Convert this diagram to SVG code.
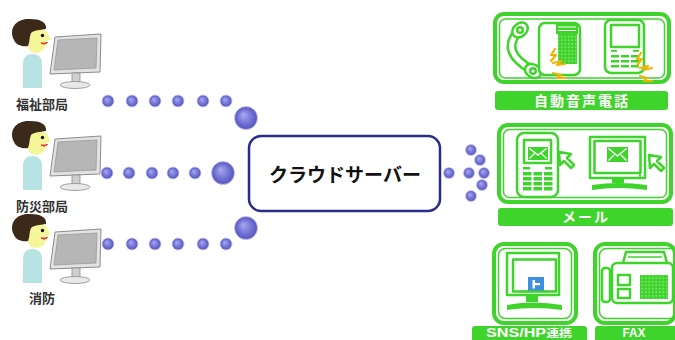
<svg xmlns="http://www.w3.org/2000/svg" xmlns:xlink="http://www.w3.org/1999/xlink" width="675" height="340" viewBox="0 0 675 340">
  <style>
    .lbl { font-family: "Noto Sans CJK JP", "Noto Sans", sans-serif; font-size: 13px; font-weight: bold; fill: #333; text-anchor: middle; }
    .srv { font-family: "Noto Sans CJK JP", "Noto Sans", sans-serif; font-size: 19px; font-weight: bold; fill: #111; text-anchor: middle; }
    .bar { fill: #3fd42b; }
    .bartxt { font-family: "Noto Sans CJK JP", "Liberation Sans", sans-serif; font-size: 14px; font-weight: bold; fill: #fff; text-anchor: middle; letter-spacing: 2px; }
    .foot { font-family: "Liberation Sans", "Noto Sans CJK JP", sans-serif; font-size: 12.5px; font-weight: bold; fill: #fff; text-anchor: middle; }
    .frame { fill: #fff; stroke: #3fd42b; stroke-width: 4; }
    .inner { fill: none; stroke: #3fd42b; stroke-width: 1.5; }
    .g { fill: none; stroke: #3fd42b; stroke-width: 2.5; stroke-linejoin: round; }
    .gw { fill: #fff; stroke: #3fd42b; stroke-width: 2.5; stroke-linejoin: round; }
    .gf { fill: #3fd42b; }
    .bolt { fill: none; stroke: #f5b200; stroke-width: 2.2; stroke-linejoin: round; stroke-linecap: round; }
    .ball { fill: url(#ball); stroke: #c9c9f2; stroke-width: 0.8; }
  </style>
  <defs>
    <radialGradient id="ball" cx="0.5" cy="0.5" r="0.5" fx="0.38" fy="0.35">
      <stop offset="0" stop-color="#a9a9f0"/>
      <stop offset="0.65" stop-color="#7070d4"/>
      <stop offset="1" stop-color="#5656ba"/>
    </radialGradient>
    <pattern id="keys" width="3.5" height="3.5" patternUnits="userSpaceOnUse">
      <rect width="3.5" height="3.5" fill="#3fd42b"/>
      <circle cx="1.75" cy="1.75" r="0.7" fill="#c8f5c0"/>
    </pattern>
    <!-- person at a desk monitor -->
    <g id="person">
      <path d="M23,88 L23,64 C23,57 27,54 32.5,54 C38,54 42,57 42,64 L42,88 Z" fill="#b8e3e3"/>
      <path d="M27,36 C27,28 47,26 48,35 L51,39 L47,41 C47,48 42,53 35,53 C29,53 26,46 27,36 Z" fill="#f5f59a"/>
      <path d="M14,40 C8,28 17,18 30,19 C40,19 47,22 46,29 C40,30 34,30 31,33 C29,37 30,42 28,46 C22,47 16,45 14,40 Z" fill="#3b2a1a"/>
      <circle cx="42.5" cy="35.5" r="1.7" fill="#111"/>
      <path d="M41,43 Q44,45.5 47.5,42.5 Q45,43.5 41,43 Z" fill="#e83030" stroke="#e83030" stroke-width="1"/>
      <polygon points="55,37 101,34 100,72 50,74" fill="#e2e2e2" stroke="#8c8c8c" stroke-width="1"/>
      <polygon points="58,40 97,38 96,68 54,70" fill="#b6b6b6" stroke="#9a9a9a" stroke-width="0.8"/>
      <rect x="72" y="73" width="8" height="9" fill="#cfcfcf" stroke="#8c8c8c" stroke-width="0.8"/>
      <ellipse cx="75" cy="85" rx="15" ry="3.5" fill="#e8e8e8" stroke="#999" stroke-width="0.9"/>
    </g>
    <path id="cursor" d="M0,0 L12,2 L8,6 L15,13 L12,16 L5,9 L1,13 Z"/>
  </defs>

  <!-- departments -->
  <g id="welfare">
    <use xlink:href="#person"/>
    <text class="lbl" x="42" y="109">福祉部局</text>
  </g>
  <g id="disaster">
    <use xlink:href="#person" transform="translate(0,102)"/>
    <text class="lbl" x="42" y="211">防災部局</text>
  </g>
  <g id="fire">
    <use xlink:href="#person" transform="translate(0,195)"/>
    <text class="lbl" x="42" y="303">消防</text>
  </g>

  <!-- dotted links -->
  <g id="connectors">
    <circle class="ball" cx="108" cy="101" r="6"/>
    <circle class="ball" cx="132" cy="101" r="6"/>
    <circle class="ball" cx="155" cy="101" r="6"/>
    <circle class="ball" cx="178" cy="101" r="6"/>
    <circle class="ball" cx="203" cy="101" r="6"/>
    <circle class="ball" cx="226" cy="101" r="6"/>
    <circle class="ball" cx="246" cy="118" r="11.5"/>

    <circle class="ball" cx="107" cy="173" r="6"/>
    <circle class="ball" cx="129" cy="173" r="6"/>
    <circle class="ball" cx="152" cy="173" r="6"/>
    <circle class="ball" cx="173" cy="173" r="6"/>
    <circle class="ball" cx="195" cy="173" r="6"/>
    <circle class="ball" cx="223" cy="173" r="11.5"/>

    <circle class="ball" cx="108" cy="244" r="6"/>
    <circle class="ball" cx="132" cy="244" r="6"/>
    <circle class="ball" cx="155" cy="244" r="6"/>
    <circle class="ball" cx="178" cy="244" r="6"/>
    <circle class="ball" cx="203" cy="244" r="6"/>
    <circle class="ball" cx="226" cy="244" r="6"/>
    <circle class="ball" cx="246" cy="228" r="11.5"/>

    <circle class="ball" cx="449" cy="173" r="5.5"/>
    <circle class="ball" cx="471" cy="150" r="5.5"/>
    <circle class="ball" cx="480" cy="160" r="5.5"/>
    <circle class="ball" cx="469" cy="173" r="5.5"/>
    <circle class="ball" cx="484" cy="173" r="5.5"/>
    <circle class="ball" cx="482" cy="185" r="5.5"/>
    <circle class="ball" cx="471" cy="196" r="5.5"/>
  </g>

  <!-- cloud server -->
  <g id="server">
    <rect x="249" y="136" width="191" height="75" rx="12" fill="#fff" stroke="#2b2b88" stroke-width="2.5"/>
    <text class="srv" x="345" y="182">クラウドサーバー</text>
  </g>

  <!-- automated voice call -->
  <g id="voice">
    <rect class="frame" x="495" y="14" width="174" height="68" rx="9"/>
    <rect class="inner" x="499.5" y="19" width="165" height="59" rx="6"/>
    <!-- handset -->
    <path d="M518,32 Q500,52 532,70" fill="none" stroke="#3fd42b" stroke-width="10" stroke-linecap="round"/>
    <path d="M518,32 Q500,52 532,70" fill="none" stroke="#fff" stroke-width="5" stroke-linecap="round"/>
    <ellipse cx="520" cy="30" rx="8.5" ry="6.5" transform="rotate(-40 520 30)" class="gw" stroke-width="2"/>
    <circle cx="520" cy="30" r="2.8" class="g" stroke-width="1.5"/>
    <ellipse cx="533" cy="71" rx="8.5" ry="6.5" transform="rotate(30 533 71)" class="gw" stroke-width="2"/>
    <circle cx="533" cy="71" r="2.8" class="g" stroke-width="1.5"/>
    <!-- desk phone -->
    <rect class="gw" x="539" y="23" width="41" height="52" rx="6"/>
    <rect class="gf" x="556" y="24" width="22" height="10"/>
    <line x1="558" y1="27" x2="576" y2="27" stroke="#fff" stroke-width="1"/>
    <line x1="558" y1="30.5" x2="576" y2="30.5" stroke="#fff" stroke-width="1"/>
    <rect x="558" y="34" width="19" height="30" fill="url(#keys)"/>
    <polyline class="bolt" points="555,49 551,55 556,55 551,61"/>
    <polyline class="bolt" points="553,63 561,61 557,65 565,64"/>
    <polyline class="bolt" points="553,73 561,75 557,78 566,78"/>
    <!-- mobile -->
    <rect class="gw" x="605" y="20" width="39" height="53" rx="6" stroke-width="3"/>
    <rect class="g" x="611" y="25" width="28" height="22" stroke-width="2"/>
    <rect class="gf" x="611" y="50" width="6" height="1.8"/>
    <rect class="gf" x="633" y="50" width="6" height="1.8"/>
    <rect class="gf" x="611" y="55" width="8" height="2.5"/>
    <rect class="gf" x="621" y="55" width="8" height="2.5"/>
    <rect class="gf" x="631" y="55" width="8" height="2.5"/>
    <rect class="gf" x="611" y="60" width="8" height="2.5"/>
    <rect class="gf" x="621" y="60" width="8" height="2.5"/>
    <rect class="gf" x="631" y="60" width="8" height="2.5"/>
    <rect class="gf" x="611" y="65" width="8" height="2.5"/>
    <rect class="gf" x="621" y="65" width="8" height="2.5"/>
    <rect class="gf" x="631" y="65" width="8" height="2.5"/>
    <polyline class="bolt" points="641,53 637,59 642,59 637,65"/>
    <polyline class="bolt" points="640,68 648,66 644,70 652,68"/>
    <polyline class="bolt" points="640,76 647,78 644,81 652,81"/>
    <rect class="bar" x="495" y="91" width="173" height="19" rx="3"/>
    <text class="bartxt" x="582" y="105.5">自動音声電話</text>
  </g>

  <!-- mail -->
  <g id="mail">
    <rect class="frame" x="499" y="125" width="172" height="77" rx="9"/>
    <rect class="inner" x="503.5" y="129.5" width="163" height="68" rx="6"/>
    <!-- phone with envelope -->
    <rect class="gw" x="517" y="133" width="41" height="64" rx="7" stroke-width="3"/>
    <rect class="g" x="524" y="140" width="27" height="23" stroke-width="1.5"/>
    <rect class="gf" x="528" y="147" width="20" height="13"/>
    <polyline points="529.5,148.5 538,155 546.5,148.5" fill="none" stroke="#fff" stroke-width="1.5"/>
    <line x1="529.5" y1="158.5" x2="535" y2="153" stroke="#fff" stroke-width="1.2"/>
    <line x1="546.5" y1="158.5" x2="541" y2="153" stroke="#fff" stroke-width="1.2"/>
    <rect class="gf" x="523" y="167" width="7" height="2.5"/>
    <rect class="gf" x="545" y="167" width="7" height="2.5"/>
    <rect class="gf" x="523" y="172" width="8.5" height="3.5"/>
    <rect class="gf" x="533.5" y="172" width="8.5" height="3.5"/>
    <rect class="gf" x="544" y="172" width="8.5" height="3.5"/>
    <rect class="gf" x="523" y="177" width="8.5" height="3.5"/>
    <rect class="gf" x="533.5" y="177" width="8.5" height="3.5"/>
    <rect class="gf" x="544" y="177" width="8.5" height="3.5"/>
    <rect class="gf" x="523" y="182" width="8.5" height="3.5"/>
    <rect class="gf" x="533.5" y="182" width="8.5" height="3.5"/>
    <rect class="gf" x="544" y="182" width="8.5" height="3.5"/>
    <rect class="gf" x="523" y="187" width="8.5" height="3.5"/>
    <rect class="gf" x="533.5" y="187" width="8.5" height="3.5"/>
    <rect class="gf" x="544" y="187" width="8.5" height="3.5"/>
    <use xlink:href="#cursor" x="559" y="152" class="gw" stroke-width="2"/>
    <!-- monitor with envelope -->
    <rect class="gw" x="590" y="137" width="55" height="41"/>
    <rect class="g" x="594.5" y="141" width="46" height="32" stroke-width="1.5"/>
    <circle class="gf" cx="640" cy="175.5" r="1.2"/>
    <rect class="gf" x="607" y="147" width="21" height="15"/>
    <polyline points="608.5,148.5 617.5,156 626.5,148.5" fill="none" stroke="#fff" stroke-width="1.5"/>
    <line x1="608.5" y1="160.5" x2="614" y2="155" stroke="#fff" stroke-width="1.2"/>
    <line x1="626.5" y1="160.5" x2="621" y2="155" stroke="#fff" stroke-width="1.2"/>
    <rect class="gf" x="612" y="178" width="12" height="5"/>
    <path class="gf" d="M592,185 Q618,181 647,185 L647,190 Q618,186 592,190 Z"/>
    <use xlink:href="#cursor" x="649" y="155" class="gw" stroke-width="2"/>
    <rect class="bar" x="498" y="208" width="175" height="18" rx="3"/>
    <text class="bartxt" x="586" y="222">メール</text>
  </g>

  <!-- social / homepage -->
  <g id="sns">
    <rect class="frame" x="494" y="244" width="82" height="79" rx="10"/>
    <rect class="inner" x="498.5" y="248.5" width="73" height="70" rx="7"/>
    <rect class="gw" x="507" y="253" width="52" height="42"/>
    <rect class="g" x="513" y="259.5" width="43" height="32" stroke-width="1.5"/>
    <rect x="528" y="277" width="16" height="14" fill="#3f8fe0"/>
    <rect x="532.5" y="280" width="2.5" height="8.5" fill="#fff"/>
    <rect x="535" y="283" width="5" height="2.2" fill="#fff"/>
    <rect class="gf" x="520" y="290.5" width="29" height="1.8"/>
    <rect class="gf" x="526" y="295" width="12" height="7"/>
    <path class="gf" d="M507,305 Q534,300 562,305 L562,310 Q534,306 507,310 Z"/>
    <rect class="bar" x="472" y="326" width="115" height="20" rx="3"/>
    <text class="foot" x="529" y="337" textLength="86" lengthAdjust="spacingAndGlyphs">SNS/HP<tspan font-size="10">連携</tspan></text>
  </g>

  <!-- fax -->
  <g id="fax">
    <rect class="frame" x="595" y="244" width="80" height="79" rx="10"/>
    <rect class="inner" x="599.5" y="248.5" width="80" height="70" rx="7"/>
    <path class="gw" d="M623,263 L626,252 L664,252 L667,263"/>
    <line x1="628" y1="257" x2="662" y2="257" stroke="#3fd42b" stroke-width="1.5"/>
    <rect class="gw" x="612" y="263" width="61" height="40" rx="5"/>
    <rect class="gw" x="602" y="268" width="8" height="34" rx="3"/>
    <rect class="g" x="618" y="275" width="12" height="10" stroke-width="2"/>
    <rect class="g" x="618" y="289" width="12" height="9" stroke-width="2"/>
    <rect x="640" y="275" width="28" height="24" fill="url(#keys)"/>
    <rect class="bar" x="595" y="326" width="85" height="20" rx="3"/>
    <text class="foot" x="634" y="337" textLength="23" lengthAdjust="spacingAndGlyphs">FAX</text>
  </g>
</svg>
